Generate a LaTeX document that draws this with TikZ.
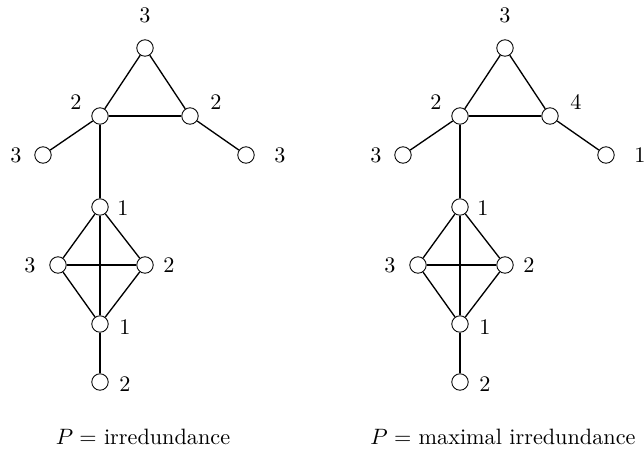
\documentclass[tikz,border=0pt]{standalone}
\usepackage{tikz}

\begin{document}
\begin{tikzpicture}[x=0.45pt, y=-0.45pt, every node/.style={font=\normalsize}]
    \tikzset{vertex/.style={draw,circle,line width=0.4pt,inner sep=0pt,minimum size=7.4pt,fill=white},
             edge/.style={line width=0.6pt},
             boldedge/.style={line width=1pt}}
    \useasboundingbox (0,0) rectangle (644,448);
    \foreach \g/\dx/\rl/\fr/\cap in {a/0/2/3/irredundance, b/360/4/1/maximal irredundance} {
    \begin{scope}[shift={(\dx,0)}]
    % triangle and pendants
    \node[vertex] (top\g) at (145,48) {};
    \node[vertex] (tl\g) at (100,116) {};
    \node[vertex] (tr\g) at (190,116) {};
    \node[vertex] (pl\g) at (43,155) {};
    \node[vertex] (pr\g) at (246,155) {};
    % K4 and tail
    \node[vertex] (ku\g) at (100,207) {};
    \node[vertex] (kl\g) at (58,265) {};
    \node[vertex] (kr\g) at (145,265) {};
    \node[vertex] (kd\g) at (100,324) {};
    \node[vertex] (bot\g) at (100,382) {};
    % numbers
    \node at (145,15) {3};
    \node at (76,102) {2};
    \node at (216,102) {\rl};
    \node at (16,155) {3};
    \node at (280,155) {\fr};
    \node at (123,208) {1};
    \node at (30,265) {3};
    \node at (169,265) {2};
    \node at (125,327) {1};
    \node at (125,384) {2};
    \node at (143,437) {$P=$ \cap};
    \draw[edge] (top\g) -- (tl\g);
    \draw[edge] (top\g) -- (tr\g);
    \draw[edge] (tl\g) -- (tr\g);
    \draw[edge] (tl\g) -- (pl\g);
    \draw[edge] (tr\g) -- (pr\g);
    \draw[boldedge] (tl\g) -- (ku\g);
    \draw[edge] (ku\g) -- (kl\g);
    \draw[edge] (ku\g) -- (kr\g);
    \draw[boldedge] (ku\g) -- (kd\g);
    \draw[edge] (kl\g) -- (kr\g);
    \draw[edge] (kl\g) -- (kd\g);
    \draw[edge] (kr\g) -- (kd\g);
    \draw[boldedge] (kd\g) -- (bot\g);
    \end{scope}
    }
  \end{tikzpicture}
\end{document}
